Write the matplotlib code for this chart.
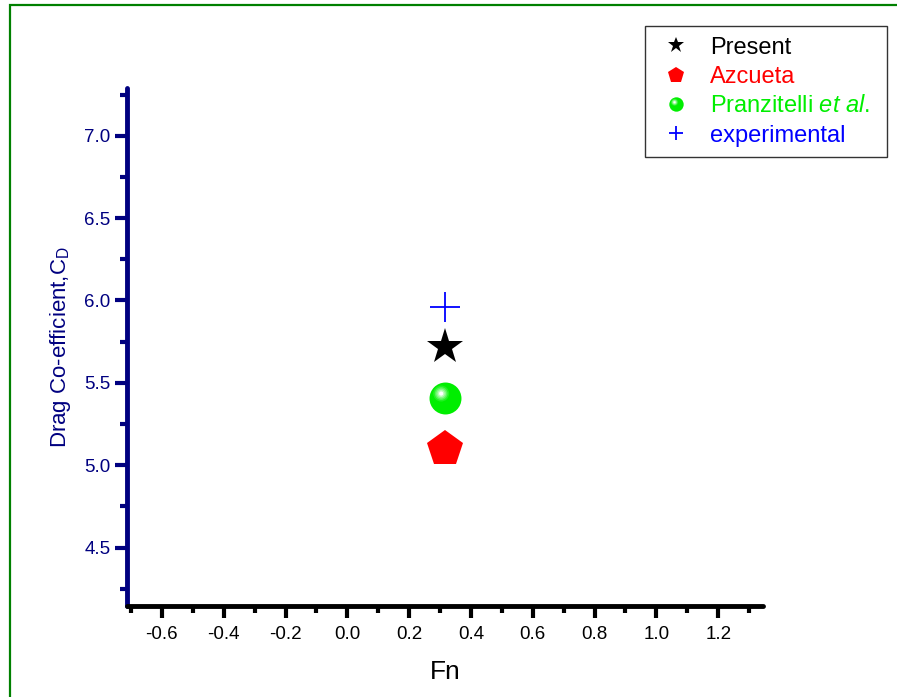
import matplotlib
matplotlib.use("Agg")
import matplotlib.pyplot as plt
import numpy as np
from matplotlib.path import Path
from matplotlib.patches import Rectangle
from matplotlib.ticker import MultipleLocator

plt.rcParams['font.family'] = ['Liberation Sans', 'DejaVu Sans']
plt.rcParams['mathtext.fontset'] = 'custom'
plt.rcParams['mathtext.rm'] = 'Liberation Sans'
plt.rcParams['mathtext.it'] = 'Liberation Sans:italic'

# ---- data ----
fn = [0.316]
present_cd = [5.72]
azcueta_cd = [5.10]
pranzitelli_cd = [5.41]
experimental_cd = [5.96]

labels = ["Present", "Azcueta", "Pranzitelli $\\mathit{et\\ al.}$ ", "experimental"]
label_colors = ["black", "red", "#00ee00", "blue"]

xlim = (-0.713, 1.345)
ylim = (4.145, 7.29)
xticks = [-0.6, -0.4, -0.2, 0.0, 0.2, 0.4, 0.6, 0.8, 1.0, 1.2]
yticks = [4.5, 5.0, 5.5, 6.0, 6.5, 7.0]

W, H = 897, 697
fig = plt.figure(figsize=(W / 100, H / 100), dpi=100)
ax = fig.add_axes([127 / W, 1 - 606 / H, (763 - 127) / W, (606 - 88) / H])

navy = '#000080'

# ---- markers ----
ax.plot(fn, experimental_cd, linestyle='none', marker='+', ms=22, mew=1.3,
        color='blue', zorder=3)
h_present, = ax.plot(fn, present_cd, linestyle='none', marker='*', ms=27,
                     color='black', mew=0, zorder=3)
h_azc, = ax.plot(fn, azcueta_cd, linestyle='none', marker='p', ms=27,
                 color='red', mew=0, zorder=3)

# shaded sphere: base circle plus offset highlight layers
def hl_marker(cx, cy, r):
    circ = Path.circle((cx, cy), r)
    anchor = Path([(1.0, 0.0), (-1.0, 0.0)], [Path.MOVETO, Path.MOVETO])
    return Path.make_compound_path(anchor, circ)

sphere_handles = []
h_base, = ax.plot(fn, pranzitelli_cd, linestyle='none', marker='o', ms=23,
                  color='#00ee00', mew=0, zorder=3)
sphere_handles.append(h_base)
layers = [(0.50, '#22f222'), (0.40, '#55f555'), (0.31, '#88f888'),
          (0.22, '#bbfbbb'), (0.13, '#ffffff')]
for r, c in layers:
    hh, = ax.plot(fn, pranzitelli_cd, linestyle='none',
                  marker=hl_marker(-0.27, 0.31, r), ms=23, color=c, mew=0,
                  zorder=3)
    sphere_handles.append(hh)

h_exp, = ax.plot([], [], linestyle='none', marker='+', ms=22, mew=1.3,
                 color='blue')

# ---- axes styling ----
ax.set_xlim(*xlim)
ax.set_ylim(*ylim)
ax.set_xticks(xticks)
ax.set_yticks(yticks)
ax.xaxis.set_minor_locator(MultipleLocator(0.1))
ax.yaxis.set_minor_locator(MultipleLocator(0.25))
ax.set_xticklabels([f"{v:.1f}" for v in xticks])
ax.set_yticklabels([f"{v:.1f}" for v in yticks])

for s in ['top', 'right']:
    ax.spines[s].set_visible(False)
ax.spines['left'].set_color(navy)
ax.spines['left'].set_linewidth(3.5)
ax.spines['bottom'].set_color('black')
ax.spines['bottom'].set_linewidth(3.5)
for s in ['left', 'bottom']:
    ax.spines[s].set_capstyle('round')

ax.tick_params(axis='x', which='major', direction='out', length=8.5, width=3,
               color='black', labelcolor='black', labelsize=13.5, pad=6)
ax.tick_params(axis='x', which='minor', direction='out', length=5, width=3,
               color='black')
ax.tick_params(axis='y', which='major', direction='out', length=8.5, width=3,
               color=navy, labelcolor=navy, labelsize=13.5, pad=3.5)
ax.tick_params(axis='y', which='minor', direction='out', length=5, width=3,
               color=navy)

ax.set_xlabel("Fn", fontsize=19, color='black', labelpad=12)
ax.set_ylabel("Drag Co-efficient,C$_\\mathregular{D}$", fontsize=16,
              color=navy, labelpad=8)

# ---- legend ----
handles = [h_present, h_azc, tuple(sphere_handles), h_exp]
leg = fig.legend(handles, labels, loc='upper right',
                 bbox_to_anchor=(887 / W, 1 - 26 / H),
                 bbox_transform=fig.transFigure, borderaxespad=0,
                 fontsize=17, markerscale=0.45, frameon=True, fancybox=False,
                 edgecolor='black', borderpad=0.45, handlelength=1.7,
                 handletextpad=0.6, labelspacing=0.31, numpoints=1)
leg.get_frame().set_linewidth(1.0)
for t, c in zip(leg.get_texts(), label_colors):
    t.set_color(c)

# ---- green outer border ----
border = Rectangle((10 / W, -0.1), 1.2, 1 - 5 / H + 0.1, transform=fig.transFigure,
                   fill=False, edgecolor='#008000', linewidth=1.6, clip_on=False)
fig.add_artist(border)

fig.savefig("out.png", dpi=100)
